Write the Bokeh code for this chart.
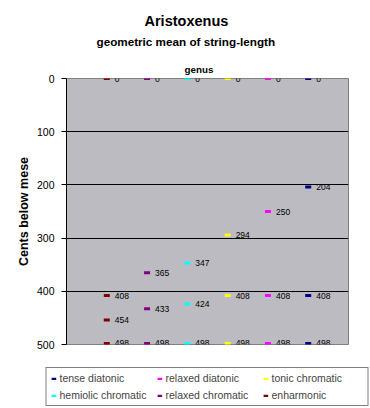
import math
from bokeh.plotting import figure
from bokeh.models import (Range1d, FixedTicker, Title, Legend, LegendItem,
                          ColumnDataSource)
from bokeh.core.properties import value
from bokeh.embed import file_html
from bokeh.resources import INLINE

# ---- data ----
genera = ["tense diatonic", "relaxed diatonic", "tonic chromatic",
          "hemiolic chromatic", "relaxed chromatic", "enharmonic"]
colors = ["#000080", "#FF00FF", "#FFFF00", "#00FFFF", "#800080", "#800000"]
tense_diatonic = [0, 204, 408, 498]
relaxed_diatonic = [0, 250, 408, 498]
tonic_chromatic = [0, 294, 408, 498]
hemiolic_chromatic = [0, 347, 424, 498]
relaxed_chromatic = [0, 365, 433, 498]
enharmonic = [0, 408, 454, 498]
series = [tense_diatonic, relaxed_diatonic, tonic_chromatic,
          hemiolic_chromatic, relaxed_chromatic, enharmonic]
y_ticks = [0, 100, 200, 300, 400, 500]

FONT = "Liberation Sans"

p = figure(width=370, height=408, frame_width=282, frame_height=266,
           x_range=Range1d(0, 7), y_range=Range1d(500, 0),
           output_backend="svg", toolbar_location=None, x_axis_location=None,
           min_border_left=66, min_border_right=22, min_border_top=78,
           min_border_bottom=64)
p.background_fill_color = "#BCBBC2"
p.border_fill_color = "white"
p.outline_line_color = "#808080"

p.yaxis.ticker = FixedTicker(ticks=y_ticks)
p.yaxis.major_label_text_font = FONT
p.yaxis.major_label_text_font_size = "10.5px"
p.yaxis.major_label_text_color = "black"
p.yaxis.major_label_standoff = 7
p.yaxis.major_tick_out = 5
p.yaxis.major_tick_in = 0
p.yaxis.minor_tick_line_color = None
p.yaxis.axis_line_color = "black"
p.yaxis.major_tick_line_color = "black"
p.yaxis.axis_label = "Cents below mese"
p.yaxis.axis_label_text_font = FONT
p.yaxis.axis_label_text_font_size = "12.5px"
p.yaxis.axis_label_text_font_style = "bold"
p.yaxis.axis_label_text_color = "black"
p.yaxis.axis_label_standoff = 3

p.xgrid.grid_line_color = None
p.ygrid.ticker = FixedTicker(ticks=[100, 200, 300, 400])
p.ygrid.grid_line_color = "black"
p.ygrid.grid_line_width = 1

items = []
n = len(genera)
for i, (name, vals, col) in enumerate(zip(genera, series, colors)):
    xs = [n - i] * len(vals)
    src = ColumnDataSource(dict(x=xs, y=vals, t=[str(v) for v in vals]))
    r = p.rect(x="x", y="y", width=6, height=3, width_units="screen",
               height_units="screen", source=src, fill_color=col, line_color=None)
    p.text(x="x", y="y", text="t", source=src, x_offset=8,
           text_font=value(FONT), text_font_size="8.5px", text_color="black",
           text_baseline="middle", text_align="left")
    items.append(LegendItem(label=name, renderers=[r]))

legend = Legend(items=items, ncols=3, orientation="horizontal",
                location="top", margin=23, padding=4, spacing=5,
                glyph_width=6, glyph_height=3, label_width=92, label_height=12,
                label_standoff=3, label_text_font=FONT,
                label_text_font_size="10.5px", border_line_color="black",
                border_line_width=1, background_fill_color="white",
                background_fill_alpha=1)
p.add_layout(legend, "below")

def title(text, size, offset, standoff):
    return Title(text=text, align="left", offset=offset, standoff=standoff,
                 text_font=FONT, text_font_size=size, text_font_style="bold",
                 text_color="black")

p.title = title("Aristoxenus", "14.5px", 78, -13)
p.add_layout(title("genus", "9.8px", 118, 8), "above")
p.add_layout(title("geometric mean of string-length", "11.7px", 30, 20), "above")

open("out.html", "w").write(file_html(p, INLINE))
